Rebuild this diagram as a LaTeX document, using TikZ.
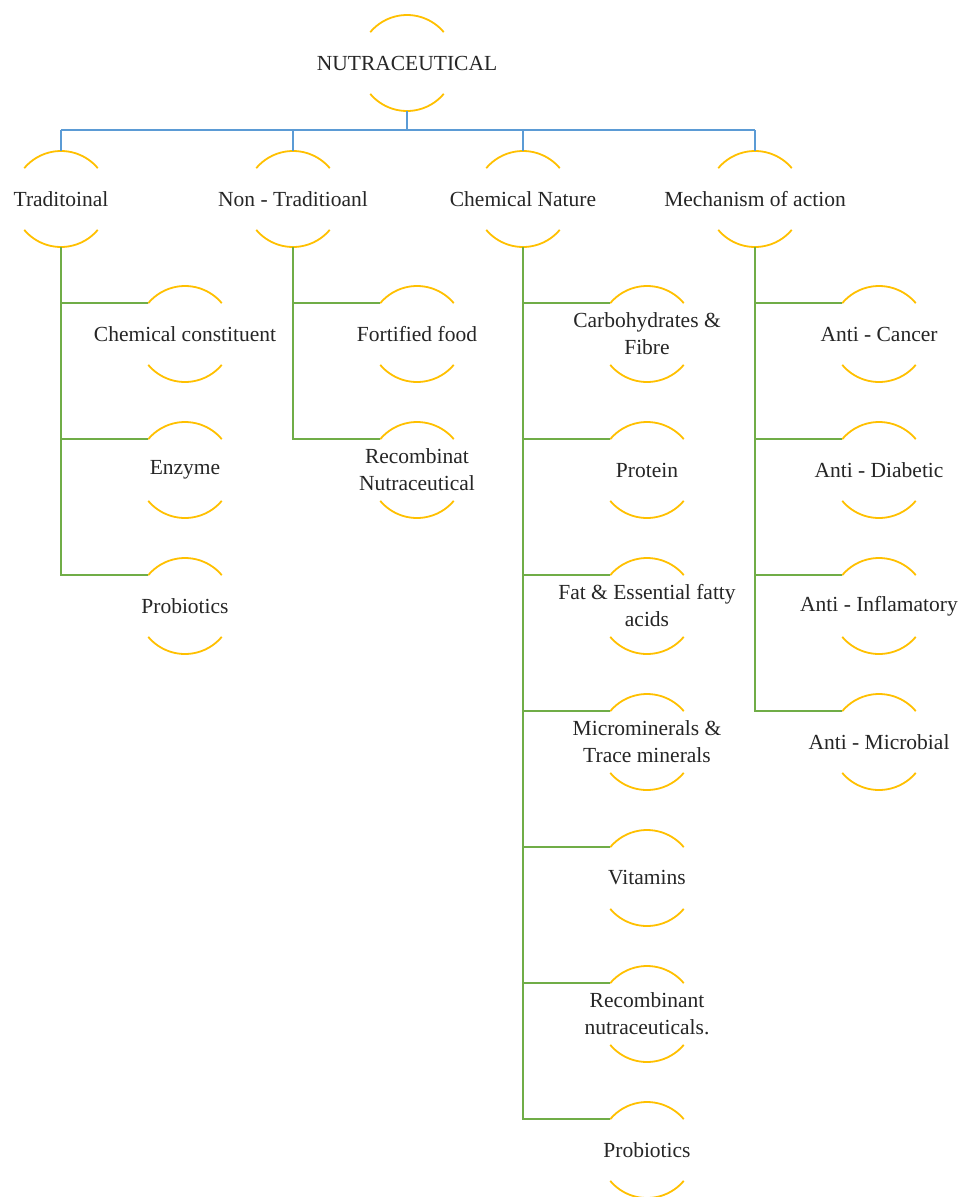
\documentclass[tikz,border=0pt]{standalone}
\usepackage{fontspec}
\setmainfont{Liberation Serif}
\usetikzlibrary{calc}
\definecolor{arcgold}{HTML}{FFC000}
\definecolor{busblue}{HTML}{5B9BD5}
\definecolor{treegreen}{HTML}{70AD47}
\tikzset{
  lbl/.style={inner sep=0pt, align=center, text=black!85, font=\fontsize{21.5}{27}\selectfont},
  arcline/.style={draw=arcgold, line width=1.8pt},
  busline/.style={draw=busblue, line width=1.8pt},
  treeline/.style={draw=treegreen, line width=1.8pt},
}
\newcommand{\arcnode}[4]{%
  \node[lbl] (#1) at (#2,-#3) {#4};
  \coordinate (#1-t) at ($(#1.center)+(0,48)$);
  \coordinate (#1-b) at ($(#1.center)+(0,-48)$);
  \coordinate (#1-l) at ($(#1.center)+(140:48pt)$);
  \draw[arcline] ([shift={(40:48pt)}]#1.center) arc[start angle=40,end angle=140,radius=48pt];
  \draw[arcline] ([shift={(220:48pt)}]#1.center) arc[start angle=220,end angle=320,radius=48pt];
}
\begin{document}
\begin{tikzpicture}[x=1pt,y=1pt]
\useasboundingbox[fill=white] (0,0) rectangle (959,-1197);
% root and level 1
\arcnode{root}{407}{63}{NUTRACEUTICAL}
\arcnode{trad}{61}{199}{Traditoinal}
\arcnode{nont}{293}{199}{Non - Traditioanl}
\arcnode{chem}{523}{199}{Chemical Nature}
\arcnode{mech}{755}{199}{Mechanism of action}
% level 2: traditional
\arcnode{tA}{185}{334}{Chemical constituent}
\arcnode{tB}{185}{470}{Enzyme}
\arcnode{tC}{185}{606}{Probiotics}
% non-traditional
\arcnode{nA}{417}{334}{Fortified food}
\arcnode{nB}{417}{470}{Recombinat\\Nutraceutical}
% chemical nature
\arcnode{cA}{647}{334}{Carbohydrates \&\\Fibre}
\arcnode{cB}{647}{470}{Protein}
\arcnode{cC}{647}{606}{Fat \& Essential fatty\\acids}
\arcnode{cD}{647}{742}{Microminerals \&\\Trace minerals}
\arcnode{cE}{647}{878}{Vitamins}
\arcnode{cF}{647}{1014}{Recombinant\\nutraceuticals.}
\arcnode{cG}{647}{1150}{Probiotics}
% mechanism
\arcnode{mA}{879}{334}{Anti - Cancer}
\arcnode{mB}{879}{470}{Anti - Diabetic}
\arcnode{mC}{879}{606}{Anti - Inflamatory}
\arcnode{mD}{879}{742}{Anti - Microbial}
% blue bus
\coordinate (bus) at ($(root-b)+(0,-19)$);
\draw[busline] (root-b) -- (bus);
\draw[busline] (bus -| trad-t) -- (bus -| mech-t);
\foreach \n in {trad,nont,chem,mech} \draw[busline] (bus -| \n-t) -- (\n-t);
% green trees
\draw[treeline] (trad-b) |- (tC-l);
\foreach \c in {tA,tB} \draw[treeline] (trad-b |- \c-l) -- (\c-l);
\draw[treeline] (nont-b) |- (nB-l);
\draw[treeline] (nont-b |- nA-l) -- (nA-l);
\draw[treeline] (chem-b) |- (cG-l);
\foreach \c in {cA,cB,cC,cD,cE,cF} \draw[treeline] (chem-b |- \c-l) -- (\c-l);
\draw[treeline] (mech-b) |- (mD-l);
\foreach \c in {mA,mB,mC} \draw[treeline] (mech-b |- \c-l) -- (\c-l);
\end{tikzpicture}
\end{document}
